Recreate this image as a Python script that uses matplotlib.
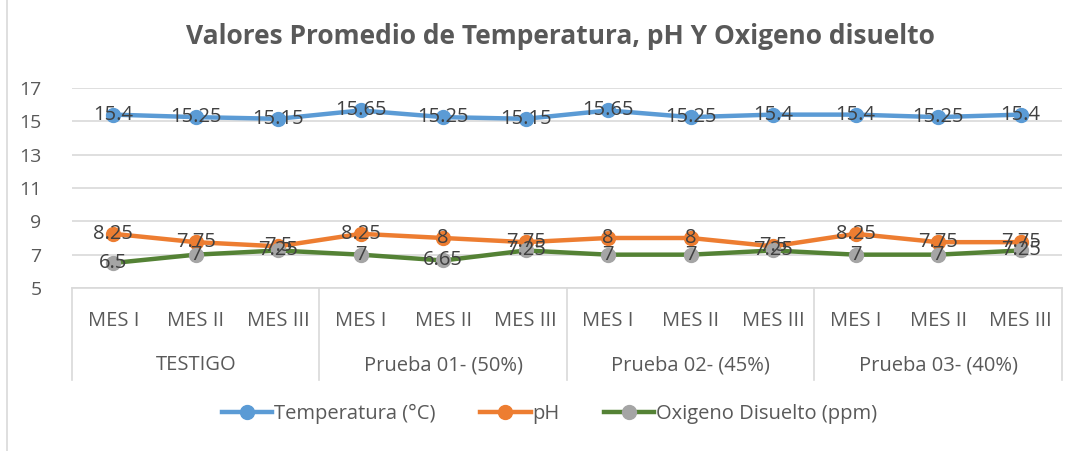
import matplotlib.pyplot as plt
import matplotlib.transforms as mtransforms
from matplotlib.lines import Line2D

# datos
meses = ["MES I", "MES II", "MES III"] * 4
grupos = ["TESTIGO", "Prueba 01- (50%)", "Prueba 02- (45%)", "Prueba 03- (40%)"]
temperatura = [15.4, 15.25, 15.15, 15.65, 15.25, 15.15, 15.65, 15.25, 15.4, 15.4, 15.25, 15.4]
ph = [8.25, 7.75, 7.5, 8.25, 8, 7.75, 8, 8, 7.5, 8.25, 7.75, 7.75]
oxigeno = [6.5, 7, 7.25, 7, 6.65, 7.25, 7, 7, 7.25, 7, 7, 7.25]
y_ticks = [5, 7, 9, 11, 13, 15, 17]

plt.rcParams['font.family'] = ['Open Sans', 'DejaVu Sans']
gris = '#595959'
grid_col = '#d9d9d9'

fig = plt.figure(figsize=(10.78, 4.51), dpi=100)
ax = fig.add_axes([0.0668, 0.3614, 0.9182, 0.4436])

x = list(range(len(meses)))
series = [
    (temperatura, '#5b9bd5', '#5b9bd5', "Temperatura (°C)"),
    (ph, '#ed7d31', '#ed7d31', "pH"),
    (oxigeno, '#548235', '#a5a5a5', "Oxigeno Disuelto (ppm)"),
]
handles = []
for vals, lc, mc, lab in series:
    ax.plot(x, vals, color=lc, lw=3.2, marker='o', ms=10, mfc=mc, mec=mc,
            solid_capstyle='round', zorder=3)
    handles.append(Line2D([0], [0], color=lc, lw=3.2, marker='o', ms=10,
                          mfc=mc, mec=mc, label=lab))
    for xi, v in zip(x, vals):
        ax.text(xi, v, f"{v:g}", ha='center', va='center', fontsize=14.5,
                color='#404040', zorder=4)

ax.set_xlim(-0.5, len(meses) - 0.5)
ax.set_ylim(5, 17)
ax.set_yticks(y_ticks)
ax.yaxis.grid(True, color=grid_col, lw=1.2)
ax.set_axisbelow(True)
ax.tick_params(axis='y', length=0, pad=22, labelsize=14, labelcolor=gris)
ax.set_xticks([])
for s in ['top', 'right', 'left']:
    ax.spines[s].set_visible(False)
ax.spines['bottom'].set_color(grid_col)
ax.spines['bottom'].set_linewidth(1.2)

# eje de categorias en dos niveles
trans = mtransforms.blended_transform_factory(ax.transData, ax.transAxes)
for xi, m in zip(x, meses):
    ax.text(xi, -0.165, m, transform=trans, ha='center', va='center',
            fontsize=14.5, color=gris)
for i, g in enumerate(grupos):
    ax.text(3 * i + 1, -0.385, g, transform=trans, ha='center', va='center',
            fontsize=14.5, color=gris)
for b in [-0.5, 2.5, 5.5, 8.5, 11.5]:
    ax.plot([b, b], [0, -0.46], transform=trans, color=grid_col, lw=1.2,
            clip_on=False)

fig.text(0.52, 0.92, "Valores Promedio de Temperatura, pH Y Oxigeno disuelto",
         ha='center', va='center', fontsize=19, fontweight='bold', color=gris)

fig.legend(handles=handles, loc='center', bbox_to_anchor=(0.51, 0.083),
           ncol=3, frameon=False, fontsize=14.5, labelcolor=gris,
           handlelength=2.5, handletextpad=0.1, columnspacing=2.2)

# borde izquierdo del recuadro
fig.add_artist(Line2D([0.0065, 0.0065], [0, 1], color=grid_col, lw=1.2))

fig.savefig("out.png", dpi=100)
